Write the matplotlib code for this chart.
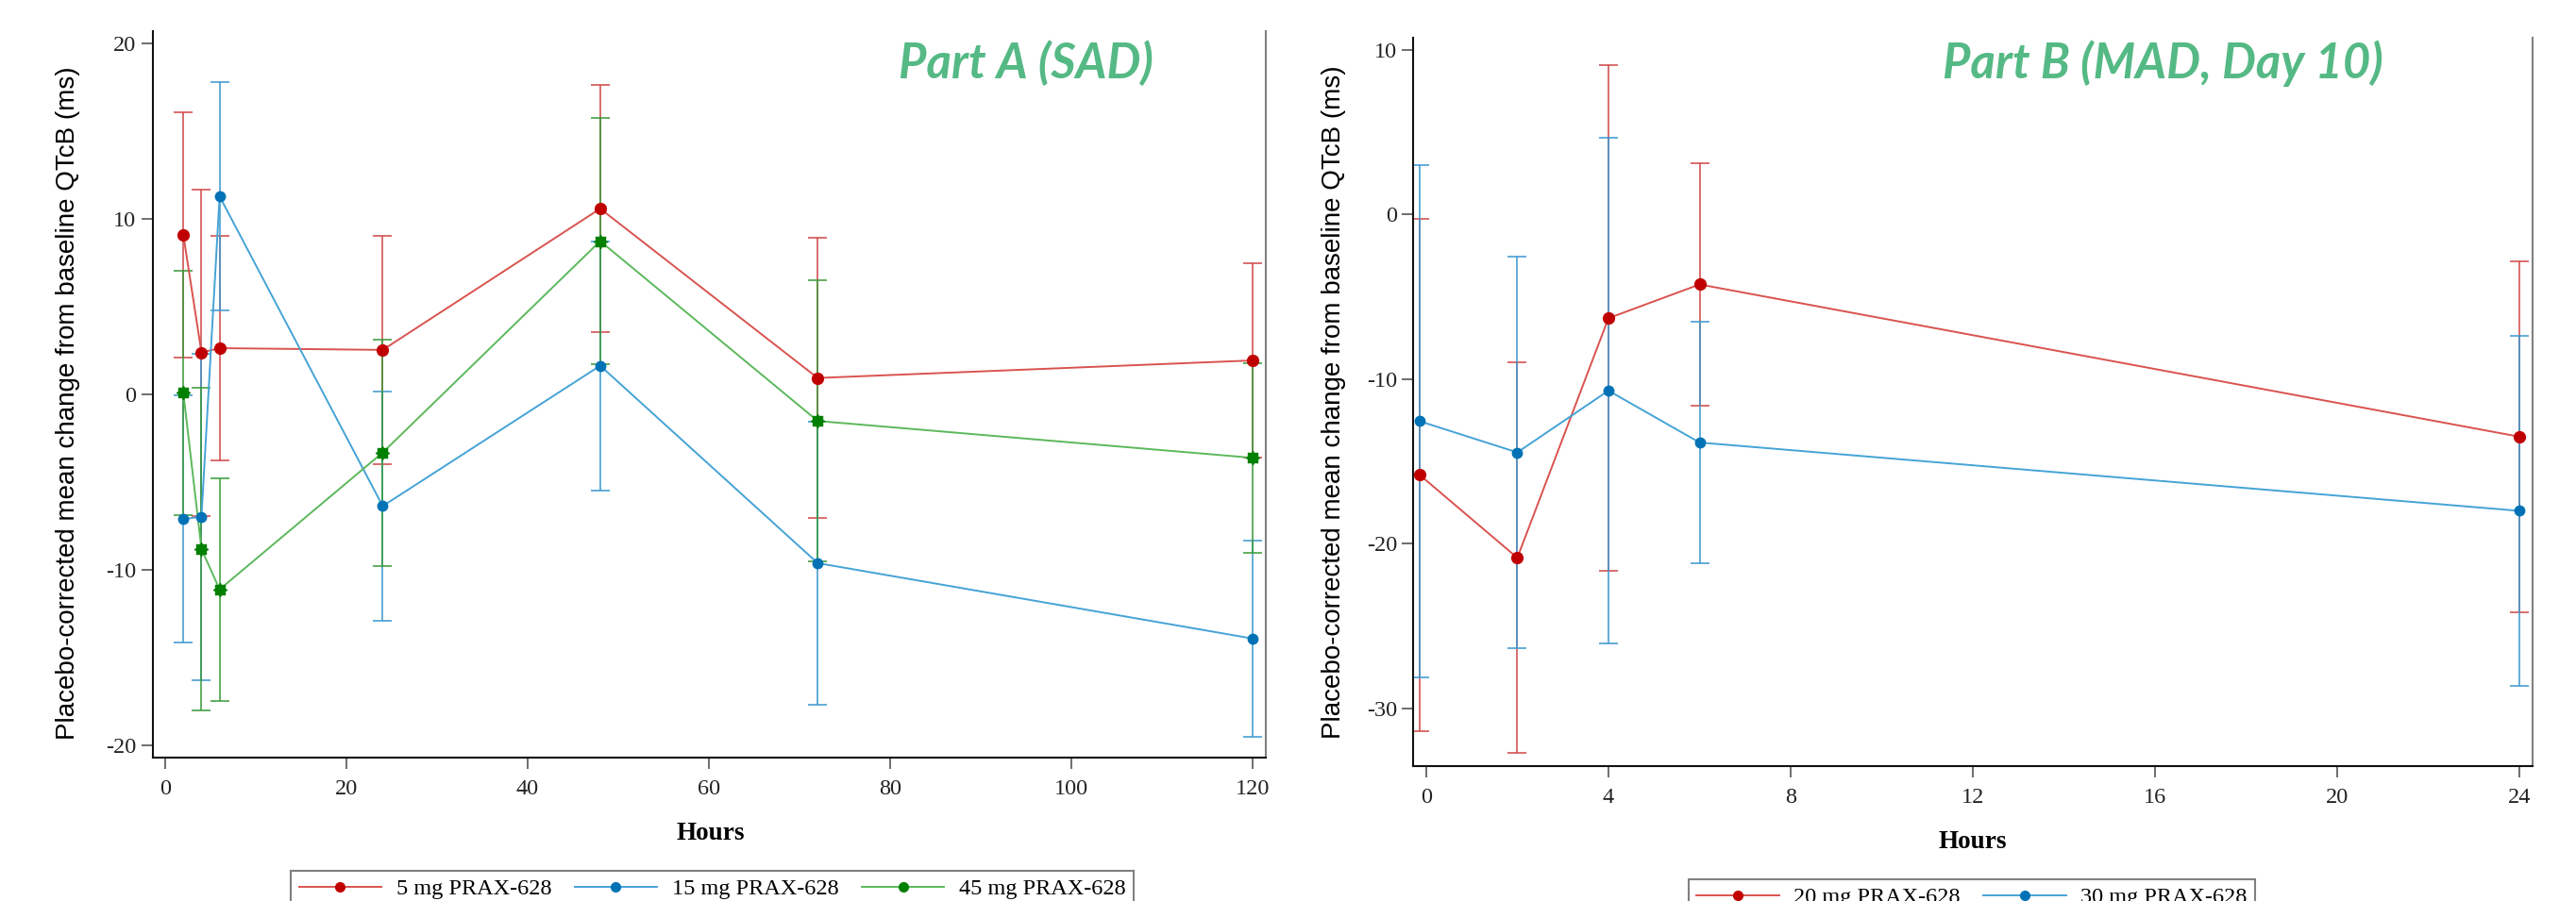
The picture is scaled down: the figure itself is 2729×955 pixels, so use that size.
import matplotlib
matplotlib.use('Agg')
import matplotlib.pyplot as plt
from matplotlib.lines import Line2D

# ---------------- data ----------------
hours_a = [2, 4, 6, 24, 48, 72, 120]
mean_5mg = [9.1, 2.4, 2.65, 2.55, 10.6, 0.95, 1.95]
err_5mg = [7.0, 9.3, 6.4, 6.5, 7.05, 8.0, 5.55]
mean_15mg = [-7.1, -6.95, 11.3, -6.35, 1.65, -9.6, -13.9]
err_15mg = [7.05, 9.3, 6.5, 6.55, 7.1, 8.05, 5.6]
mean_45mg = [0.1, -8.8, -11.1, -3.3, 8.75, -1.5, -3.6]
err_45mg = [6.95, 9.2, 6.35, 6.45, 7.0, 8.0, 5.4]

hours_b = [-0.15, 2, 4, 6, 24]
mean_20mg = [-15.8, -20.85, -6.3, -4.25, -13.5]
err_20mg = [15.55, 11.85, 15.35, 7.37, 10.65]
mean_30mg = [-12.55, -14.45, -10.7, -13.85, -18.0]
err_30mg = [15.55, 11.87, 15.35, 7.35, 10.63]

labels_a = ['5 mg PRAX-628', '15 mg PRAX-628', '45 mg PRAX-628']
labels_b = ['20 mg PRAX-628', '30 mg PRAX-628']
xticks_a = [0, 20, 40, 60, 80, 100, 120]
yticks_a = [-20, -10, 0, 10, 20]
xticks_b = [0, 4, 8, 12, 16, 20, 24]
yticks_b = [-30, -20, -10, 0, 10]

title_a = 'Part A (SAD)'
title_b = 'Part B (MAD, Day 10)'
ylabel = 'Placebo-corrected mean change from baseline QTcB (ms)'
xlabel = 'Hours'

# ---------------- style ----------------
RED_LINE, RED_MK, RED_ERR = '#D9534F', '#C00000', '#D04848'
BLUE_LINE, BLUE_MK, BLUE_ERR = '#45A3D6', '#0072B5', '#3B98CF'
GREEN_LINE, GREEN_MK, GREEN_ERR = '#5CB85C', '#008000', '#3A9A3A'
TITLE_COLOR = '#55B985'

plt.rcParams['font.family'] = ['Liberation Serif', 'DejaVu Serif']
plt.rcParams['axes.unicode_minus'] = False

W, H = 2729, 955
DPI = 100
fig = plt.figure(figsize=(W / DPI, H / DPI), dpi=DPI)


def fx(px):
    return px / W


def fy(py):
    return 1 - py / H


def make_axes(left, right, top, bottom):
    ax = fig.add_axes([fx(left), fy(bottom), (right - left) / W, (bottom - top) / H])
    ax.spines['top'].set_visible(False)
    ax.spines['right'].set_color('#808080')
    ax.spines['right'].set_linewidth(1.5)
    for s in ('left', 'bottom'):
        ax.spines[s].set_color('#111111')
        ax.spines[s].set_linewidth(1.5)
    ax.tick_params(axis='both', direction='out', length=8.5, width=1.2,
                   color='#555555', labelsize=17.5, labelcolor='#222222')
    ax.tick_params(axis='x', pad=8)
    ax.tick_params(axis='y', pad=4)
    return ax


def draw_series(ax, x, y, e, lc, mc, ec, ms, star=False):
    ax.errorbar(x, y, yerr=e, fmt='none', ecolor=ec, elinewidth=1.4,
                capsize=7, capthick=1.4, alpha=0.8, zorder=2)
    ax.plot(x, y, '-', color=lc, lw=1.4, zorder=3)
    if star:
        ax.plot(x, y, 's', color=mc, ms=ms - 1, zorder=4)
        ax.plot(x, y, marker=(8, 1, 0), ls='none', color=mc, ms=ms + 3, zorder=4)
    else:
        ax.plot(x, y, 'o', color=mc, ms=ms, zorder=4)


# ---------------- Part A ----------------
axA = make_axes(161.6, 1340.5, 33.3, 803.3)
draw_series(axA, hours_a, mean_5mg, err_5mg, RED_LINE, RED_MK, RED_ERR, 8.5)
draw_series(axA, hours_a, mean_15mg, err_15mg, BLUE_LINE, BLUE_MK, BLUE_ERR, 7.5)
draw_series(axA, hours_a, mean_45mg, err_45mg, GREEN_LINE, GREEN_MK, GREEN_ERR, 7.5, star=True)
axA.set_xlim(-1.4, 121.4)
axA.set_ylim(-20.7, 20.7)
axA.set_xticks(xticks_a)
axA.set_yticks(yticks_a)

# ---------------- Part B ----------------
axB = make_axes(1497.4, 2683.4, 40, 811.7)
draw_series(axB, hours_b, mean_20mg, err_20mg, RED_LINE, RED_MK, RED_ERR, 8.5)
draw_series(axB, hours_b, mean_30mg, err_30mg, BLUE_LINE, BLUE_MK, BLUE_ERR, 7.5)
axB.set_xlim(-0.28, 24.29)
axB.set_ylim(-33.48, 10.73)
axB.set_xticks(xticks_b)
axB.set_yticks(yticks_b)

# ---------------- labels ----------------
fig.text(fx(72), fy(427), ylabel, rotation=90, ha='center', va='center',
         fontsize=20, family=['Liberation Sans', 'DejaVu Sans'])
fig.text(fx(1413), fy(426), ylabel, rotation=90, ha='center', va='center',
         fontsize=20, family=['Liberation Sans', 'DejaVu Sans'])
fig.text(fx(753), fy(884), xlabel, ha='center', va='center', fontsize=19.5,
         weight='bold')
fig.text(fx(2090), fy(892), xlabel, ha='center', va='center', fontsize=19.5,
         weight='bold')

fig.text(fx(952), fy(83), title_a, ha='left', va='baseline', fontsize=36.5,
         weight='bold', style='italic', color=TITLE_COLOR, family=['Lato', 'DejaVu Sans'])
fig.text(fx(2058), fy(83), title_b, ha='left', va='baseline', fontsize=36.5,
         weight='bold', style='italic', color=TITLE_COLOR, family=['Lato', 'DejaVu Sans'])

# ---------------- legends ----------------
def handle(lc, mc):
    return Line2D([], [], color=lc, lw=1.4, marker='o', ms=7,
                  markerfacecolor=mc, markeredgecolor=mc)


legA = fig.legend([handle(RED_LINE, RED_MK), handle(BLUE_LINE, BLUE_MK),
                   handle(GREEN_LINE, GREEN_MK)], labels_a,
                  loc='upper left', bbox_to_anchor=(fx(308), fy(922.7)),
                  ncol=3, fontsize=17.5, handlelength=3.6, handletextpad=0.65,
                  columnspacing=1.0, borderaxespad=0, borderpad=0.35,
                  fancybox=False, edgecolor='#808080', framealpha=1)
legA.get_frame().set_linewidth(1.5)
legB = fig.legend([handle(RED_LINE, RED_MK), handle(BLUE_LINE, BLUE_MK)], labels_b,
                  loc='upper left', bbox_to_anchor=(fx(1788.5), fy(931.7)),
                  ncol=2, fontsize=17.5, handlelength=3.6, handletextpad=0.65,
                  columnspacing=1.0, borderaxespad=0, borderpad=0.35,
                  fancybox=False, edgecolor='#808080', framealpha=1)
legB.get_frame().set_linewidth(1.5)

fig.savefig('out.png', dpi=DPI)
